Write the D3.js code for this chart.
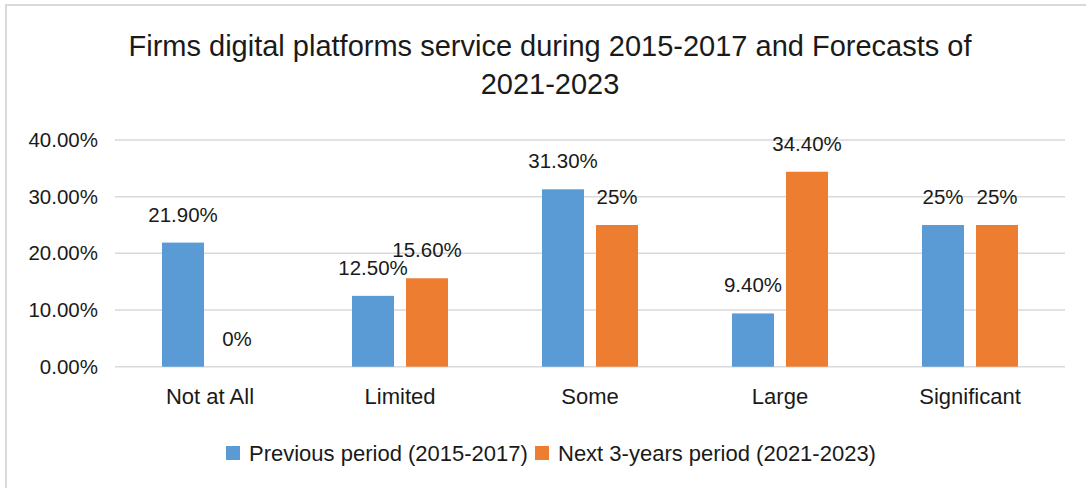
<!DOCTYPE html>
<html>
<head>
<meta charset="utf-8">
<script src="https://cdn.jsdelivr.net/npm/d3@7/dist/d3.min.js"></script>
<style>
  html, body { margin: 0; padding: 0; background: #fff; }
  svg { display: block; }
  text { font-family: "Liberation Sans", Arial, sans-serif; fill: #1a1a1a; }
</style>
</head>
<body>
<svg id="chart" width="1086" height="488"></svg>
<script>
// Chart content
const titleLines = ["Firms digital platforms service during 2015-2017 and Forecasts of", "2021-2023"];
const categories = ["Not at All", "Limited", "Some", "Large", "Significant"];
const seriesNames = ["Previous period (2015-2017)", "Next 3-years period (2021-2023)"];
const previousValues = [21.9, 12.5, 31.3, 9.4, 25];
const nextValues = [0, 15.6, 25, 34.4, 25];
const previousLabels = ["21.90%", "12.50%", "31.30%", "9.40%", "25%"];
const nextLabels = ["0%", "15.60%", "25%", "34.40%", "25%"];
const yTicks = [0, 10, 20, 30, 40];
const yTickLabels = ["0.00%", "10.00%", "20.00%", "30.00%", "40.00%"];
const colors = ["#5B9BD5", "#ED7D31"];

const svg = d3.select("#chart");

// outer chart frame (top and left edges visible)
svg.append("rect")
  .attr("x", 6).attr("y", 5)
  .attr("width", 1090).attr("height", 500)
  .attr("fill", "none").attr("stroke", "#d9d9d9").attr("stroke-width", 2);

const plot = { left: 115, right: 1065, top: 140, bottom: 366.7 };

const x = d3.scaleBand().domain(categories).range([plot.left, plot.right]).paddingInner(0).paddingOuter(0);
const xSeries = d3.scaleBand().domain([0, 1]).range([0, 96]).paddingInner(12 / 54).paddingOuter(0);
const y = d3.scaleLinear().domain([0, 40]).range([plot.bottom, plot.top]);

// title
svg.append("g").selectAll("text")
  .data(titleLines).join("text")
  .attr("x", 550)
  .attr("y", (d, i) => 56 + i * 38)
  .attr("text-anchor", "middle")
  .style("font-size", "29px")
  .text(d => d);

// gridlines
svg.append("g").selectAll("line")
  .data(yTicks).join("line")
  .attr("x1", plot.left).attr("x2", plot.right)
  .attr("y1", d => y(d)).attr("y2", d => y(d))
  .attr("stroke", "#d9d9d9").attr("stroke-width", 1.5);

// y axis labels
const yAxis = d3.axisLeft(y).tickValues(yTicks).tickFormat((d, i) => yTickLabels[i]).tickSize(0).tickPadding(17);
const yg = svg.append("g").attr("transform", `translate(${plot.left},0)`).call(yAxis);
yg.select(".domain").remove();
yg.selectAll("text").style("font-size", "20.5px").style("font-family", "Liberation Sans, Arial, sans-serif").attr("fill", "#1a1a1a");

// x axis labels
const xAxis = d3.axisBottom(x).tickSize(0).tickPadding(22);
const xg = svg.append("g").attr("transform", `translate(0,${plot.bottom})`).call(xAxis);
xg.select(".domain").remove();
xg.selectAll("text").style("font-size", "22px").style("font-family", "Liberation Sans, Arial, sans-serif").attr("fill", "#1a1a1a");

// bars and value labels
const series = [
  { values: previousValues, labels: previousLabels },
  { values: nextValues, labels: nextLabels }
];
const groupOffset = (x.bandwidth() - 96) / 2;

series.forEach((s, si) => {
  const g = svg.append("g");
  const rows = categories.map((c, i) => ({ c, v: s.values[i], label: s.labels[i] }));
  g.selectAll("rect").data(rows).join("rect")
    .attr("x", d => x(d.c) + groupOffset + xSeries(si))
    .attr("y", d => y(d.v))
    .attr("width", xSeries.bandwidth())
    .attr("height", d => y(0) - y(d.v))
    .attr("fill", colors[si]);
  g.selectAll("text").data(rows).join("text")
    .attr("x", d => x(d.c) + groupOffset + xSeries(si) + xSeries.bandwidth() / 2)
    .attr("y", d => y(d.v) - 21)
    .attr("text-anchor", "middle")
    .style("font-size", "20.5px")
    .text(d => d.label);
});

// legend
const legend = svg.append("g");
const legendItems = [
  { name: seriesNames[0], color: colors[0], x: 226 },
  { name: seriesNames[1], color: colors[1], x: 535 }
];
legendItems.forEach(item => {
  legend.append("rect").attr("x", item.x).attr("y", 446).attr("width", 14).attr("height", 14).attr("fill", item.color);
  legend.append("text").attr("x", item.x + 23).attr("y", 461).style("font-size", "22px").text(item.name);
});
</script>
</body>
</html>
